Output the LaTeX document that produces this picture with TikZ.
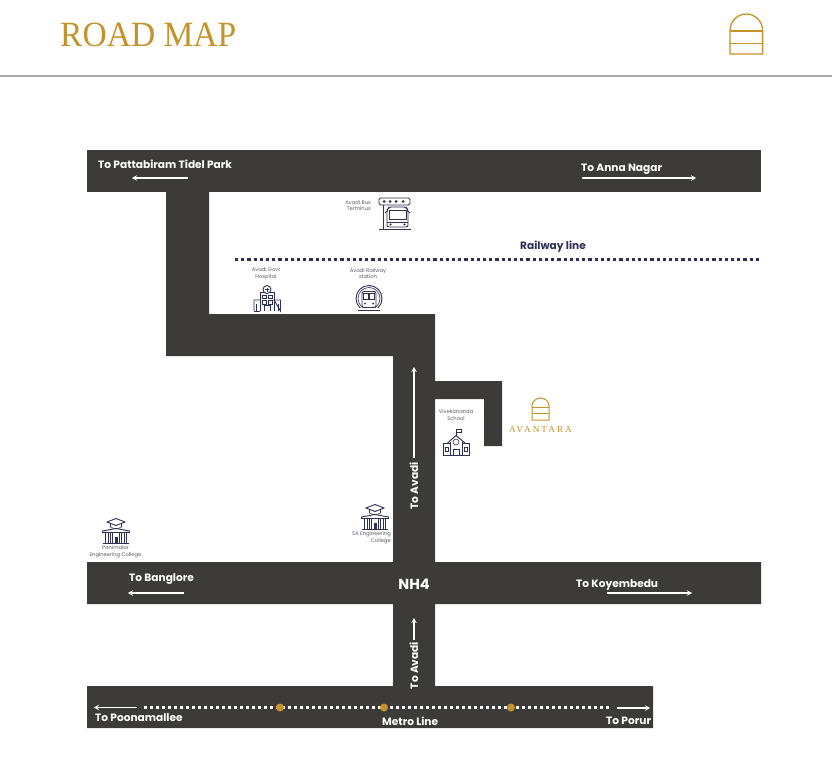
\documentclass[tikz,border=0pt]{standalone}
\usepackage{fontspec}
\usetikzlibrary{arrows.meta}
\setmainfont{Poppins}
\newfontfamily\titlefont[FakeStretch=0.945]{Liberation Serif}
\newfontfamily\brandfont[LetterSpace=22]{Liberation Serif}
\definecolor{road}{HTML}{3D3B3A}
\definecolor{gold}{HTML}{C4932A}
\definecolor{navy}{HTML}{2E3054}
\definecolor{rulecol}{HTML}{A9A9B3}
\definecolor{smalltxt}{HTML}{5A5A66}
\tikzset{
  roadfill/.style={fill=road,draw=none},
  roadarrow/.style={white,line width=1.2pt,-{Stealth[length=5pt,width=5.5pt]}},
  roadlabel/.style={text=white,font=\fontsize{10.6}{12}\selectfont\bfseries,inner sep=0pt},
  placelabel/.style={text=smalltxt,font=\fontsize{5.2}{6.6}\selectfont,inner sep=0pt,align=center},
  icon/.style={draw=navy,line width=.9pt,fill=none},
  iconthin/.style={draw=navy,line width=.6pt,fill=none},
  goldline/.style={draw=gold,line width=1.3pt,fill=none},
  metrostop/.style={circle,fill=gold,minimum size=8pt,inner sep=0pt},
}
\begin{document}
\begin{tikzpicture}[x=1pt,y=-1pt]
\useasboundingbox (0,0) rectangle (832,768);
\fill[white] (0,0) rectangle (832,768);
% header
\node[anchor=west,inner sep=0pt,text=gold,font=\fontsize{35.5}{40}\selectfont\titlefont] (title) at (60,34.5) {ROAD MAP};
\draw[rulecol,line width=1.4pt] (0,76) -- (832,76);
\draw[goldline] (730,54) -- (730,30.5) arc[start angle=180,end angle=360,x radius=16.3,y radius=16.5] -- (762.6,54) -- cycle;
\draw[goldline] (730,31) -- (762.6,31) (730,43.5) -- (762.6,43.5);
% roads
\fill[roadfill] (87,150) rectangle (761,192);
\fill[roadfill] (166,192) -- (209,192) -- (209,314) -- (435,314) -- (435,381) -- (502,381) -- (502,446) -- (484,446) -- (484,399) -- (435,399) -- (435,562) -- (761,562) -- (761,604) -- (435,604) -- (435,686) -- (653,686) -- (653,728) -- (87,728) -- (87,686) -- (393,686) -- (393,604) -- (87,604) -- (87,562) -- (393,562) -- (393,356) -- (166,356) -- cycle;
% railway
\draw[navy,line width=3.2pt,dash pattern=on 3.2pt off 3pt] (235,259.5) -- (761,259.5);
\node[anchor=west,inner sep=0pt,text=navy,font=\fontsize{10.6}{12}\selectfont\bfseries] (rail) at (520,247) {Railway line};
% road labels
\node[roadlabel,anchor=west] (l1) at (98,164) {To Pattabiram Tidel Park};
\node[roadlabel,anchor=west] (l2) at (581,169.5) {To Anna Nagar};
\node[roadlabel,anchor=west] (l3) at (129,579.5) {To Banglore};
\node[roadlabel,anchor=west] (l4) at (576,584.5) {To Koyembedu};
\node[roadlabel,font=\fontsize{14.5}{16}\selectfont\bfseries] (nh) at (414,584) {NH4};
\node[roadlabel,rotate=90] (l5) at (414,486) {To Avadi};
\node[roadlabel,rotate=90] (l6) at (414,665.5) {To Avadi};
\node[roadlabel,anchor=west] (l7) at (95,717.5) {To Poonamallee};
\node[roadlabel,anchor=west] (l8) at (382,721) {Metro Line};
\node[roadlabel,anchor=west] (l9) at (606,721) {To Porur};
% arrows
\draw[roadarrow] (188,178) -- (132,178);
\draw[roadarrow] (582,178) -- (696,178);
\draw[roadarrow] (184,593) -- (128,593);
\draw[roadarrow] (607,593) -- (692,593);
\draw[roadarrow] (414,458) -- (414,367);
\draw[roadarrow] (414,640) -- (414,618);
\draw[roadarrow] (137,707.5) -- (94,707.5);
\draw[roadarrow] (617,708) -- (650,708);
% metro line
\draw[white,line width=2.6pt,dash pattern=on 2.6pt off 3.4pt] (144,707.5) -- (611,707.5);
\node[metrostop] (m1) at (280,707.5) {};
\node[metrostop] (m2) at (384,707.5) {};
\node[metrostop] (m3) at (511,707.5) {};
% place labels
\node[placelabel,align=right,anchor=east] (p1) at (371,205.5) {Avadi Bus\\Terminus};
\node[placelabel] (p2) at (266,273.5) {Avadi Govt\\Hospital};
\node[placelabel] (p3) at (368,273.5) {Avadi Railway\\station};
\node[placelabel] (p4) at (456,415) {Vivekananda\\School};
\node[placelabel,align=right,anchor=east] (p5) at (391,538) {SA Engineering\\College};
\node[placelabel] (p6) at (115.5,551.5) {Panimalar\\Engineering  College};
% bus stop icon
\begin{scope}[shift={(378,197)}]
\draw[icon,rounded corners=1.5pt] (1,1) rectangle (32,8);
\foreach \i in {6,12,18,25}{\fill[navy] (\i,4.5) circle (1.5);}
\draw[icon] (5,8) -- (5,32) (1,32) -- (33,32);
\draw[icon,rounded corners=2pt] (9,30) -- (9,13) -- (11,10) -- (28,10) -- (30,13) -- (30,30) -- cycle;
\draw[iconthin] (11,13) rectangle (28,22);
\draw[iconthin] (9,25) -- (30,25);
\fill[navy] (12.5,27.5) circle (1.1) (26.5,27.5) circle (1.1);
\draw[icon] (7,16) -- (9,14) (32,16) -- (30,14);
\end{scope}
% hospital icon
\begin{scope}[shift={(253,285)}]
\draw[icon] (7,26) -- (7,7) -- (21,7) -- (21,26);
\fill[white] (14,4.5) circle (4);
\draw[icon] (14,4.5) circle (4);
\draw[iconthin] (14,2.5) -- (14,6.5) (12,4.5) -- (16,4.5);
\draw[icon] (1,26) -- (1,15) -- (7,15) (21,15) -- (27.5,15) -- (27.5,26) -- cycle;
\draw[icon] (1,26) -- (7,26);
\foreach \x/\y in {9/10,15/10,9/15.5,15/15.5}{\draw[iconthin] (\x,\y) rectangle +(4,3.5);}
\draw[icon] (11,26) -- (11,20) -- (17,20) -- (17,26);
\draw[iconthin] (3,19) -- (3,26) (25,19) -- (25,26);
\end{scope}
% railway station icon
\begin{scope}[shift={(369,298.5)}]
\draw[icon] (0,0) circle (13);
\draw[iconthin] (0,0) circle (11);
\fill[white] (-14,9) rectangle (14,14);
\draw[icon,rounded corners=2pt] (-7,9) -- (-7,-7) -- (7,-7) -- (7,9) -- cycle;
\draw[iconthin] (-5.5,-5) rectangle (-.5,1) (.5,-5) rectangle (5.5,1);
\fill[navy] (-4,5) circle (1) (4,5) circle (1);
\draw[icon] (-11,11.5) -- (11,11.5);
\end{scope}
% school icon
\begin{scope}[shift={(442,428)}]
\draw[icon] (1,27.5) -- (27.5,27.5);
\draw[icon] (1.5,27.5) -- (1.5,15) -- (8,15) (20.5,15) -- (27,15) -- (27,27.5);
\draw[icon] (5.5,15) -- (14,7.5) -- (23,15);
\draw[icon] (8,13.5) -- (8,27.5) (20.5,13.5) -- (20.5,27.5);
\draw[icon] (14,7.5) -- (14,1) -- (19,1) -- (19,4) -- (14,4);
\draw[iconthin] (14,14) circle (3);
\draw[icon] (11.5,27.5) -- (11.5,21) -- (17,21) -- (17,27.5);
\draw[iconthin] (3.5,19.5) rectangle (6,23) (22.5,19.5) rectangle (25,23);
\end{scope}
% college icons
\foreach \nm/\ox/\oy in {sa/361/504,pan/102/518}{
\begin{scope}[shift={(\ox,\oy)}]
\draw[icon] (14,0.5) -- (23,4) -- (14,7.5) -- (5,4) -- cycle;
\draw[iconthin] (8.5,6) -- (8.5,9) .. controls (11,11) and (17,11) .. (19.5,9) -- (19.5,6);
\draw[icon] (0.5,13) -- (14,10.5) -- (27.5,13) -- (27.5,14.5) -- (0.5,14.5) -- cycle;
\draw[icon] (1,25.5) -- (27,25.5);
\foreach \x in {3.5,6,8.5,10.5,17.5,19.5,22,24.5}{\draw[iconthin] (\x,14.5) -- (\x,25.5);}
\fill[navy] (12.5,19) rectangle (15.5,25);
\end{scope}}
% project logo
\draw[goldline,line width=1pt] (532,420) -- (532,406) arc[start angle=180,end angle=360,x radius=8.5,y radius=8] -- (549,420) -- cycle;
\draw[goldline,line width=1pt] (532,407) -- (549,407) (532,413.5) -- (549,413.5);
\node[inner sep=0pt,text=gold,font=\fontsize{9.2}{10}\selectfont\brandfont] (brand) at (540.5,430) {AVANTARA};
\end{tikzpicture}
\end{document}
